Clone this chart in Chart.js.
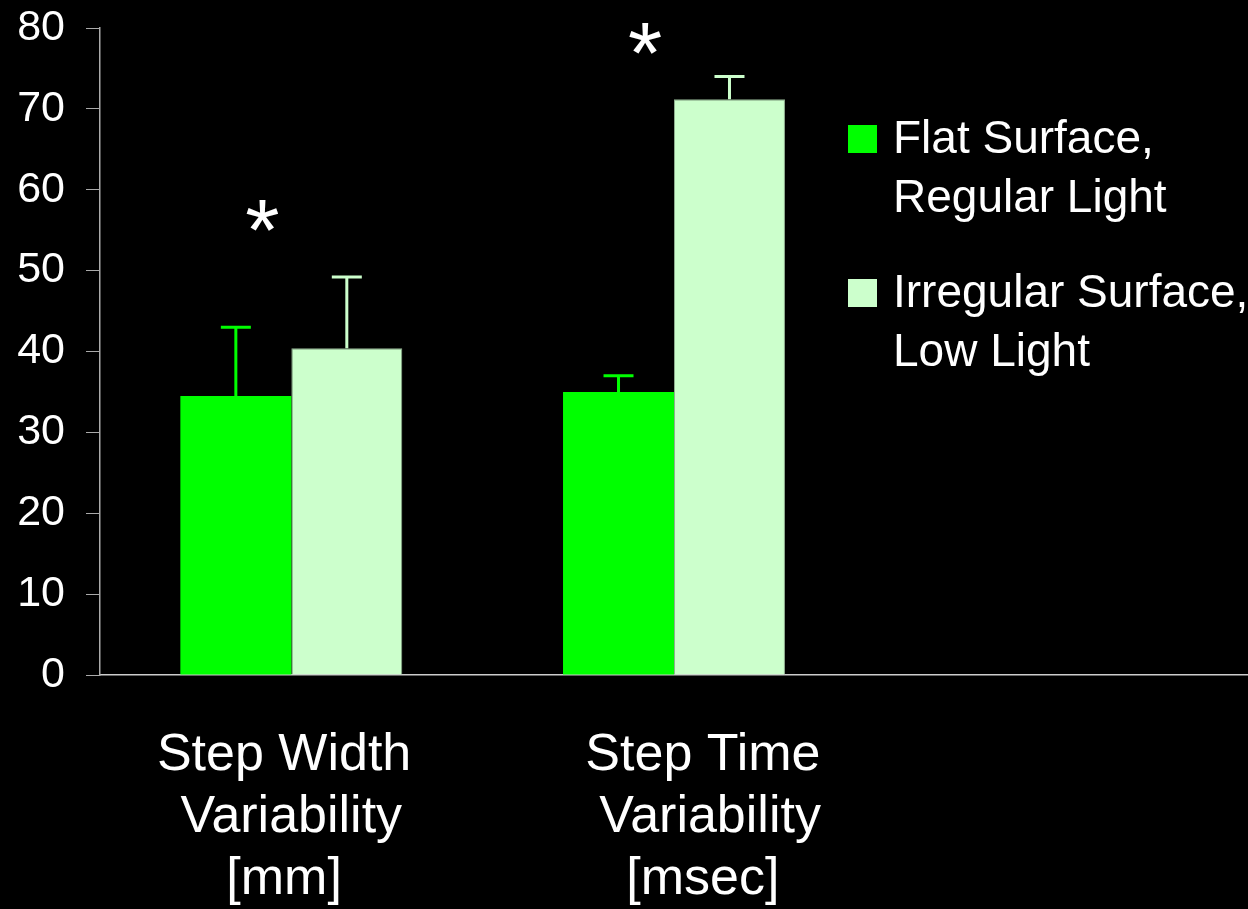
<!DOCTYPE html>
<html>
<head>
<meta charset="utf-8">
<script src="https://cdn.jsdelivr.net/npm/chart.js@4/dist/chart.umd.min.js"></script>
<style>
  html, body { margin: 0; padding: 0; background: #000; }
  canvas { display: block; }
</style>
</head>
<body>
<canvas id="myChart" width="1248" height="909"></canvas>
<script>
// category labels (spaces keep the original off-centre placement)
const gCategories = [
    ['Step Width ', 'Variability', '[mm] '],
    ['    Step Time', '     Variability', '    [msec]'],
    ''
];
const gSeriesNames = [['Flat Surface,', 'Regular Light'], ['Irregular Surface,', 'Low Light']];
const gFlat = [34.5, 35.0];
const gFlatErr = [8.5, 2.0];
const gIrregular = [40.4, 71.2];
const gIrregularErr = [8.8, 2.8];
const gSigLevels = [56.8, 78.7];
const gYTicks = [0, 10, 20, 30, 40, 50, 60, 70, 80];

const gColors = ['#00ff00', '#ccffcc'];
const gBorders = ['#00ff00', '#8fae8f'];
const FONT = 'Arial, "Liberation Sans", sans-serif';

// error bars drawn above each bar, through the chart scales
const errorBars = {
    id: 'errorBars',
    afterDatasetsDraw(chart) {
        const ctx = chart.ctx;
        const y = chart.scales.y;
        chart.data.datasets.forEach((ds, di) => {
            const meta = chart.getDatasetMeta(di);
            meta.data.forEach((bar, i) => {
                if (ds.data[i] == null) return;
                const top = y.getPixelForValue(ds.data[i] + ds.errors[i]);
                const base = y.getPixelForValue(ds.data[i]);
                ctx.save();
                ctx.strokeStyle = ds.backgroundColor;
                ctx.lineWidth = 3;
                ctx.beginPath();
                ctx.moveTo(bar.x, base);
                ctx.lineTo(bar.x, top);
                ctx.moveTo(bar.x - 15, top);
                ctx.lineTo(bar.x + 15, top);
                ctx.stroke();
                ctx.restore();
            });
        });
    }
};

// significance asterisks
const sigMarks = {
    id: 'sigMarks',
    afterDatasetsDraw(chart) {
        const ctx = chart.ctx;
        const x = chart.scales.x, y = chart.scales.y;
        ctx.save();
        ctx.fillStyle = '#fff';
        ctx.font = '88px ' + FONT;
        ctx.textAlign = 'center';
        ctx.textBaseline = 'alphabetic';
        const m = ctx.measureText('*');
        const shift = (m.actualBoundingBoxAscent - m.actualBoundingBoxDescent) / 2;
        gSigLevels.forEach((v, i) => {
            ctx.fillText('*', x.getPixelForValue(i) - 29, y.getPixelForValue(v) + shift);
        });
        ctx.restore();
    }
};

// legend placed in the empty third category
const sideLegend = {
    id: 'sideLegend',
    afterDraw(chart) {
        const ctx = chart.ctx;
        ctx.save();
        ctx.font = '46px ' + FONT;
        ctx.textBaseline = 'alphabetic';
        ctx.textAlign = 'left';
        chart.data.datasets.forEach((ds, i) => {
            const base = 153 + i * 154;
            ctx.fillStyle = ds.backgroundColor;
            ctx.fillRect(848, base - 28, 29, 28);
            ctx.fillStyle = '#fff';
            gSeriesNames[i].forEach((line, j) => {
                ctx.fillText(line, 893, base + j * 59);
            });
        });
        ctx.restore();
    }
};

const gConfig = {
    type: 'bar',
    data: {
        labels: gCategories,
        datasets: [
            {label: gSeriesNames[0].join(' '), data: gFlat, errors: gFlatErr,
             backgroundColor: gColors[0], borderColor: gBorders[0], borderWidth: 0},
            {label: gSeriesNames[1].join(' '), data: gIrregular, errors: gIrregularErr,
             backgroundColor: gColors[1], borderColor: gBorders[1], borderWidth: 1}
        ]
    },
    options: {
        responsive: false,
        animation: false,
        layout: {padding: {top: 28, right: -10, bottom: 0, left: 0}},
        categoryPercentage: 0.58,
        barPercentage: 1.0,
        plugins: {
            legend: {display: false},
            tooltip: {enabled: false}
        },
        scales: {
            x: {
                grid: {display: false, drawTicks: false},
                border: {display: true, color: '#cccccc', width: 1.5},
                ticks: {
                    color: '#fff',
                    font: {family: FONT, size: 52, lineHeight: 1.2},
                    padding: 49,
                    maxRotation: 0,
                    autoSkip: false
                },
                afterFit(scale) { scale.height = 234; }
            },
            y: {
                min: 0,
                max: 80,
                afterBuildTicks(scale) { scale.ticks = gYTicks.map(v => ({value: v})); },
                grid: {drawOnChartArea: false, drawTicks: true, tickLength: 14, color: '#aaaaaa'},
                border: {display: true, color: '#aaaaaa', width: 1.5},
                ticks: {
                    color: '#fff',
                    font: {family: FONT, size: 43},
                    padding: 21
                },
                afterFit(scale) {
                    scale.width = 100;
                    scale.paddingTop = 0;
                }
            }
        }
    },
    plugins: [errorBars, sigMarks, sideLegend]
};

const gChart = new Chart(document.getElementById('myChart'), gConfig);
</script>
</body>
</html>
